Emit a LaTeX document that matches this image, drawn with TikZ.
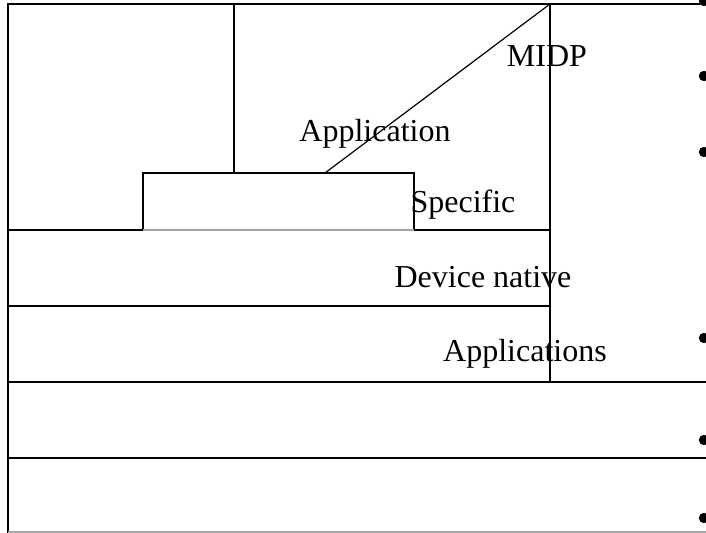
\documentclass[tikz,border=0pt]{standalone}
\usepackage{fontspec}
\setmainfont{Liberation Serif}
\usetikzlibrary{positioning}

\begin{document}
\begin{tikzpicture}[x=0.5pt,y=-0.5pt,
  edge/.style={line width=0.6pt},
  soft/.style={line width=0.6pt,draw=black!35},
  lbl/.style={font=\fontsize{16}{19}\selectfont,inner sep=0pt,anchor=base},
  dot/.style={circle,fill,inner sep=0pt,minimum size=5.2pt}
]
\useasboundingbox (0,0) rectangle (706,533);
% frame and layers
\draw[edge] (700,4) -- (8,4) -- (8,533);
\draw[soft] (8,532) -- (706,532);
\draw[edge] (8,458) -- (706,458);
\draw[edge] (8,382) -- (706,382);
\draw[edge] (8,306) -- (550,306);
\draw[edge] (8,230) -- (143,230) -- (143,173) -- (414,173) -- (414,230) -- (550,230);
\draw[soft] (143,230) -- (414,230);
\draw[edge] (550,4) -- (550,382);
\draw[edge] (234,4) -- (234,173);
\draw[edge] (550,4) -- (325,173);
% labels
\node[lbl] (midp) at (547,67) {MIDP};
\node[lbl] (app) at (375,142) {Application};
\node[lbl] (spec) at (463,213) {Specific};
\node[lbl] (devnat) at (483,288) {Device native};
\node[lbl] (apps) at (525,362) {Applications};
% bullets
\foreach \y [count=\i] in {1,76,152,338,440,518}
  \node[dot] (b\i) at (704,\y) {};
\end{tikzpicture}
\end{document}
